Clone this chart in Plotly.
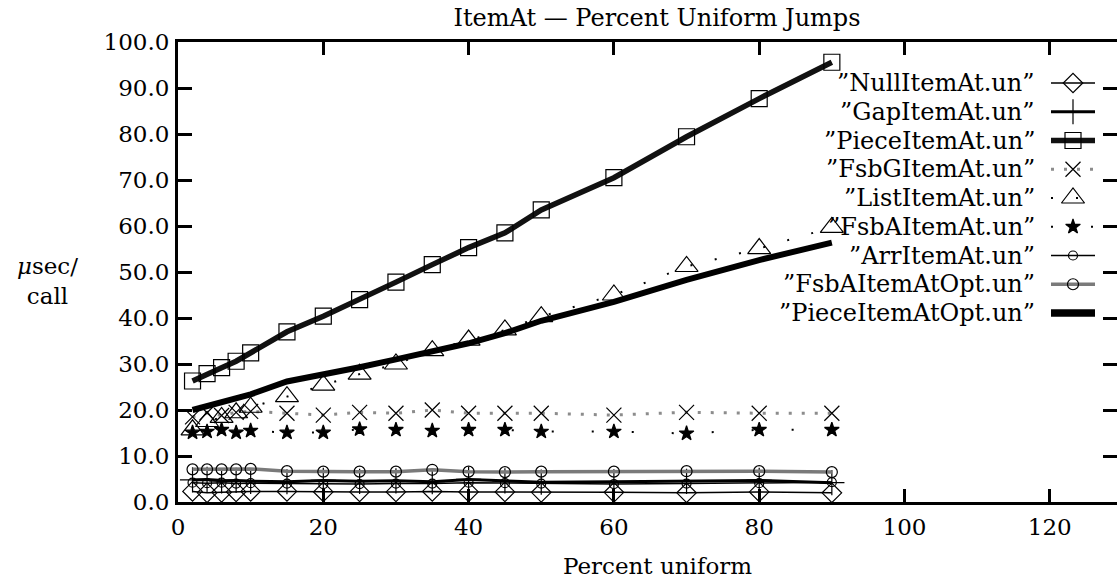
import plotly.graph_objects as go

# ---------------- data ----------------
x_pct = [2, 4, 6, 8, 10, 15, 20, 25, 30, 35, 40, 45, 50, 60, 70, 80, 90]

null_item = [2.3, 2.0, 2.1, 2.2, 2.3, 2.3, 2.2, 2.2, 2.2, 2.3, 2.2, 2.2, 2.1, 2.1, 2.0, 2.2, 2.0]
gap_item = [4.8, 4.9, 4.6, 4.7, 4.5, 4.4, 4.7, 4.5, 4.6, 4.4, 4.9, 4.6, 4.3, 4.4, 4.5, 4.7, 4.2]
piece_item = [26.3, 27.9, 29.2, 30.6, 32.4, 37.0, 40.4, 44.0, 47.8, 51.6, 55.3, 58.5, 63.5, 70.5, 79.4, 87.7, 95.6]
fsbg_item = [18.5, 19.4, 18.8, 19.5, 19.7, 19.3, 18.9, 19.5, 19.3, 20.0, 19.3, 19.3, 19.3, 18.9, 19.5, 19.3, 19.3]
list_item = [15.7, 17.5, 18.4, 19.4, 20.6, 22.9, 25.4, 27.8, 30.0, 32.9, 35.2, 37.4, 40.3, 45.0, 51.2, 55.1, 59.7]
fsba_item = [15.1, 15.3, 15.7, 15.1, 15.5, 15.1, 15.1, 15.8, 15.7, 15.5, 15.7, 15.7, 15.3, 15.3, 14.9, 15.7, 15.7]
arr_item = [4.2, 4.1, 4.2, 4.0, 4.1, 4.0, 3.9, 3.9, 4.0, 4.0, 4.2, 4.1, 4.0, 3.9, 4.0, 4.1, 4.3]
fsba_opt = [7.1, 7.1, 7.1, 7.1, 7.2, 6.7, 6.6, 6.6, 6.6, 7.0, 6.6, 6.5, 6.6, 6.6, 6.7, 6.7, 6.5]
piece_opt = [20.0, 20.9, 21.7, 22.4, 23.4, 26.2, 27.6, 29.3, 31.0, 32.7, 34.5, 36.7, 39.4, 43.5, 48.3, 52.6, 56.4]

series_names = ["NullItemAt.un", "GapItemAt.un", "PieceItemAt.un", "FsbGItemAt.un",
                "ListItemAt.un", "FsbAItemAt.un", "ArrItemAt.un", "FsbAItemAtOpt.un",
                "PieceItemAtOpt.un"]
series_values = [null_item, gap_item, piece_item, fsbg_item, list_item, fsba_item,
                 arr_item, fsba_opt, piece_opt]

x_ticks = [0, 20, 40, 60, 80, 100, 120]
y_ticks = [0, 10, 20, 30, 40, 50, 60, 70, 80, 90, 100]

# ---------------- styles ----------------
styles = [
    dict(symbol="diamond-open", size=15, lc="black", lw=1.5, dash="solid"),
    dict(symbol="cross-thin-open", size=18, lc="black", lw=3, dash="solid"),
    dict(symbol="square-open", size=16, lc="#111111", lw=5.5, dash="solid"),
    dict(symbol="x-thin-open", size=15, lc="#8c8c8c", lw=3, dash="3px,10px"),
    dict(symbol="triangle-up-open", size=20, lc="black", lw=2, dash="2px,23px"),
    dict(symbol="star", size=11, lc="black", lw=2, dash="2px,38px"),
    dict(symbol="circle-open", size=9, lc="black", lw=1.5, dash="solid"),
    dict(symbol="circle-open", size=11, lc="#7a7a7a", lw=3.5, dash="solid"),
    dict(symbol=None, size=0, lc="black", lw=6, dash="solid"),
]

FONT = "DejaVu Serif"
W, H = 1117, 581
PL, PT, PR, PB = 178, 42, 1117, 502   # plot box in pixels

fig = go.Figure()

for name, vals, st in zip(series_names, series_values, styles):
    mode = "lines+markers" if st["symbol"] else "lines"
    fig.add_trace(go.Scatter(
        x=x_pct, y=vals, mode=mode, name=name, showlegend=False,
        line=dict(color=st["lc"], width=st["lw"], dash=st["dash"]),
        marker=dict(symbol=st["symbol"] or "circle", size=st["size"], color="black",
                    line=dict(color="black", width=1.2)),
    ))

# ---------------- gnuplot-style key (top right) ----------------
row0, row_step = 83, 28.75
annotations = []
for i, (name, st) in enumerate(zip(series_names, styles)):
    ry = row0 + row_step * i
    fig.add_trace(go.Scatter(
        x=[1051, 1095], y=[ry, ry], xaxis="x2", yaxis="y2", mode="lines",
        showlegend=False, hoverinfo="skip",
        line=dict(color=st["lc"], width=st["lw"] + (1.5 if i == 8 else 0), dash=st["dash"]),
    ))
    if st["symbol"]:
        fig.add_trace(go.Scatter(
            x=[1073], y=[ry], xaxis="x2", yaxis="y2", mode="markers",
            showlegend=False, hoverinfo="skip",
            marker=dict(symbol=st["symbol"], size=st["size"], color="black",
                        line=dict(color="black", width=1.2)),
        ))
    annotations.append(dict(
        x=1037, y=ry, xref="x2", yref="y2", xanchor="right", yanchor="middle",
        text="\u201d" + name + "\u201d", showarrow=False,
        font=dict(family=FONT, size=24, color="black"),
    ))

# dummy trace to make right-side tick axis render
fig.add_trace(go.Scatter(x=[None], y=[None], xaxis="x", yaxis="y3", showlegend=False))

pw, ph = PR - PL, PB - PT
annotations.append(dict(
    x=(47 - PL) / pw, y=(PB - 281) / ph, xref="paper", yref="paper",
    xanchor="center", yanchor="middle",
    text="<i>\u03bc</i>sec/<br>call", showarrow=False, align="center",
    font=dict(family=FONT, size=23, color="black"),
))
annotations.append(dict(
    x=(657 - PL) / pw, y=(PB - 566) / ph, xref="paper", yref="paper",
    xanchor="center", yanchor="middle",
    text="Percent uniform", showarrow=False,
    font=dict(family=FONT, size=23, color="black"),
))

fig.update_layout(
    width=W, height=H,
    margin=dict(l=PL, r=W - PR, t=PT, b=H - PB, pad=0),
    paper_bgcolor="white", plot_bgcolor="white",
    font=dict(family=FONT, size=23, color="black"),
    title=dict(text="ItemAt \u2014 Percent Uniform Jumps", x=657 / W, xanchor="center",
               y=1 - 18 / H, yanchor="middle", xref="container", yref="container",
               font=dict(family=FONT, size=24, color="black")),
    xaxis=dict(range=[0, 129.25], tickvals=x_ticks, ticktext=[str(v) for v in x_ticks],
               showgrid=False, zeroline=False, showline=True, linewidth=3, linecolor="black",
               mirror="ticks", ticks="inside", ticklen=13, tickwidth=3, tickcolor="black",
               ticklabelstandoff=2),
    yaxis=dict(range=[0, 100], tickvals=y_ticks, ticktext=["%.1f" % v for v in y_ticks],
               showgrid=False, zeroline=False, showline=True, linewidth=3, linecolor="black",
               ticks="inside", ticklen=14, tickwidth=3, tickcolor="black",
               ticklabelstandoff=1),
    yaxis3=dict(range=[0, 100], tickvals=y_ticks, overlaying="y", side="right", anchor="x",
                showticklabels=False, showgrid=False, zeroline=False, showline=False,
                ticks="inside", ticklen=14, tickwidth=3, tickcolor="black"),
    xaxis2=dict(range=[PL, PR], overlaying="x", anchor="y2", visible=False),
    yaxis2=dict(range=[PB, PT], overlaying="y", anchor="x2", visible=False),
    annotations=annotations,
)

fig.write_html("out.html", config={"displayModeBar": False},
               post_script="document.body.style.margin='0px';")
